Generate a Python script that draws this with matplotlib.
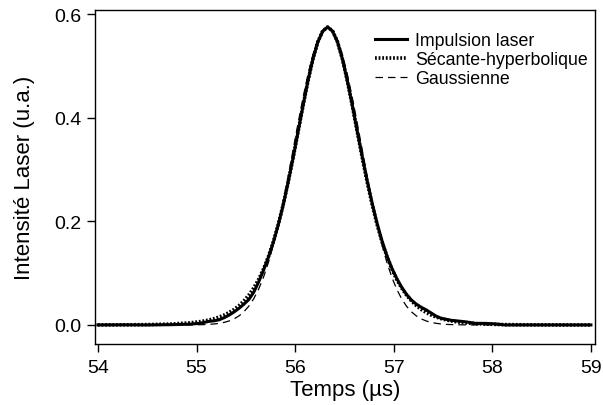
import matplotlib
matplotlib.use("Agg")
import matplotlib.pyplot as plt

plt.rcParams['font.family'] = ['Liberation Sans', 'DejaVu Sans']

# time samples (µs)
t = [54.00, 54.25, 54.50, 54.75, 54.93,
     55.03, 55.08, 55.13, 55.18, 55.23, 55.28, 55.33, 55.38, 55.43, 55.48,
     55.53, 55.58, 55.63, 55.68, 55.73, 55.78, 55.83, 55.88, 55.93, 55.98,
     56.03, 56.08, 56.13, 56.18, 56.23, 56.28, 56.33, 56.38, 56.43, 56.48,
     56.53, 56.58, 56.63, 56.68, 56.73, 56.78, 56.83, 56.88, 56.93, 56.98,
     57.03, 57.08, 57.13, 57.18, 57.23, 57.28, 57.33, 57.38, 57.43, 57.48,
     57.53, 57.58, 57.63, 57.73, 57.83, 57.93, 58.03, 58.13, 58.33, 58.60,
     58.80, 59.00]

impulsion = [0.0000, 0.0002, 0.0000, 0.0005, 0.0015,
             0.003, 0.005, 0.007, 0.008, 0.010, 0.014, 0.019, 0.025, 0.032, 0.040,
             0.049, 0.063, 0.083, 0.106, 0.131, 0.160, 0.194, 0.232, 0.276, 0.323,
             0.373, 0.423, 0.471, 0.513, 0.546, 0.567, 0.575, 0.567, 0.546, 0.513,
             0.471, 0.424, 0.374, 0.326, 0.279, 0.236, 0.197, 0.163, 0.134, 0.110,
             0.090, 0.073, 0.059, 0.048, 0.040, 0.034, 0.029, 0.023, 0.017, 0.013,
             0.011, 0.009, 0.008, 0.006, 0.003, 0.003, 0.002, 0.000, 0.000, 0.000,
             0.000, 0.000]

secante = [0.0001, 0.0002, 0.0006, 0.0018, 0.0040,
           0.0062, 0.0078, 0.0098, 0.0122, 0.0153, 0.0191, 0.0239, 0.0298, 0.0372, 0.0463,
           0.0575, 0.0713, 0.0880, 0.1083, 0.1325, 0.1612, 0.1948, 0.2332, 0.2763, 0.3234,
           0.3730, 0.4231, 0.4708, 0.5130, 0.5463, 0.5676, 0.5750, 0.5676, 0.5463, 0.5130,
           0.4708, 0.4231, 0.3730, 0.3234, 0.2763, 0.2332, 0.1948, 0.1612, 0.1325, 0.1083,
           0.0880, 0.0713, 0.0575, 0.0463, 0.0372, 0.0298, 0.0239, 0.0191, 0.0153, 0.0122,
           0.0098, 0.0078, 0.0062, 0.0040, 0.0025, 0.0016, 0.0010, 0.0006, 0.0003, 0.0001,
           0.0000, 0.0000]

gauss = [0.0000, 0.0000, 0.0000, 0.0000, 0.0001,
         0.0004, 0.0007, 0.0011, 0.0019, 0.0031, 0.0049, 0.0076, 0.0116, 0.0173, 0.0253,
         0.0361, 0.0505, 0.0691, 0.0925, 0.1212, 0.1554, 0.1950, 0.2395, 0.2878, 0.3385,
         0.3896, 0.4388, 0.4837, 0.5217, 0.5507, 0.5688, 0.5750, 0.5688, 0.5507, 0.5217,
         0.4837, 0.4388, 0.3896, 0.3385, 0.2878, 0.2395, 0.1950, 0.1554, 0.1212, 0.0925,
         0.0691, 0.0505, 0.0361, 0.0253, 0.0173, 0.0116, 0.0076, 0.0049, 0.0031, 0.0019,
         0.0011, 0.0007, 0.0004, 0.0001, 0.0000, 0.0000, 0.0000, 0.0000, 0.0000, 0.0000,
         0.0000, 0.0000]

labels = ["Impulsion laser", "Sécante-hyperbolique", "Gaussienne"]
xticks = [54, 55, 56, 57, 58, 59]
yticks = [0.0, 0.2, 0.4, 0.6]

fig = plt.figure(figsize=(6.03, 4.06), dpi=100)
ax = fig.add_axes([0.1575, 0.150, 0.829, 0.823])

ax.plot(t, impulsion, color='black', lw=2.2, solid_joinstyle='round', label=labels[0])
ax.plot(t, secante, color='black', lw=2.6, linestyle=(0, (0.5, 0.5)), label=labels[1])
ax.plot(t, gauss, color='black', lw=0.9, linestyle=(0, (6, 4)), label=labels[2])

ax.set_xlim(53.97, 59.04)
ax.set_ylim(-0.037, 0.608)
ax.set_xticks(xticks)
ax.set_yticks(yticks)
ax.set_yticklabels([f"{v:.1f}" for v in yticks])
ax.tick_params(direction='out', length=6, width=1, labelsize=14)
ax.tick_params(axis='x', pad=5)
ax.tick_params(axis='y', pad=3.5)
for s in ax.spines.values():
    s.set_linewidth(1.0)

ax.set_xlabel("Temps (µs)", fontsize=16, labelpad=2)
ax.set_ylabel("Intensité Laser (u.a.)", fontsize=16, labelpad=14)

leg = ax.legend(loc='upper left', bbox_to_anchor=(0.56, 0.933), frameon=False,
                fontsize=12.8, handlelength=1.8, handletextpad=0.45,
                labelspacing=0.1, borderpad=0, borderaxespad=0)

fig.savefig("out.png", dpi=100)
